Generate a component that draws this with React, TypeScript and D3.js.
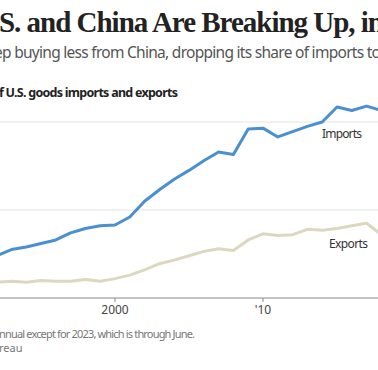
import React from 'react';
import * as d3 from 'd3';

// China's share of U.S. goods trade, percent
const years = [1992, 1993, 1994, 1995, 1996, 1997, 1998, 1999, 2000, 2001, 2002, 2003, 2004, 2005,
  2006, 2007, 2008, 2009, 2010, 2011, 2012, 2013, 2014, 2015, 2016, 2017, 2018];
const importShare = [4.8, 5.5, 5.8, 6.2, 6.6, 7.4, 7.9, 8.2, 8.3, 9.2, 11.0, 12.3, 13.5, 14.5,
  15.6, 16.6, 16.3, 19.2, 19.3, 18.3, 18.9, 19.5, 20.0, 21.7, 21.3, 21.8, 21.3];
const exportShare = [1.8, 1.9, 1.8, 2.0, 1.9, 1.9, 2.1, 1.9, 2.2, 2.6, 3.2, 3.9, 4.3, 4.8,
  5.3, 5.6, 5.4, 6.6, 7.3, 7.1, 7.2, 7.8, 7.7, 7.9, 8.2, 8.5, 7.2];
const gridValues = [10, 20];
const tickYears = [2000, 2010];
const tickLabels = ['2000', "'10"];

const W = 378;
const H = 370;
const SANS = '"Noto Sans", "Open Sans", sans-serif';

export default function App() {
  // 2000 sits at x=115, 2010 at x=263; the chart is cropped on both sides
  const x = d3.scaleLinear().domain([2000, 2010]).range([115, 263]);
  const y = d3.scaleLinear().domain([0, 20]).range([298, 122]);

  const line = d3.line<number>()
    .x((_, i) => x(years[i]))
    .y(d => y(d));

  return (
    <svg width={W} height={H} style={{ position: 'absolute', left: 0, top: 0, background: '#fff' }}>
      {/* titles */}
      <text x={-1} y={32} textLength={385} fontFamily='"Liberation Serif", serif' fontWeight="bold"
        fontSize={29} fill="#222">S. and China Are Breaking Up, in</text>
      <text x={-6} y={58} textLength={387} fontFamily={SANS} fontSize={15.5} fill="#555">
        ep buying less from China, dropping its share of imports to</text>
      <text x={-1} y={97} textLength={179} fontFamily={SANS} fontWeight="bold" fontSize={12.5} fill="#222">
        f U.S. goods imports and exports</text>

      {/* gridlines */}
      {gridValues.map(v => (
        <line key={v} x1={0} x2={W} y1={y(v)} y2={y(v)} stroke="#e4e4e4" strokeWidth={1} />
      ))}

      {/* series */}
      <path d={line(exportShare) ?? ''} fill="none" stroke="#dcd8c0" strokeWidth={3} strokeLinejoin="round" />
      <path d={line(importShare) ?? ''} fill="none" stroke="#4a8fcf" strokeWidth={3} strokeLinejoin="round" />

      {/* x axis */}
      <line x1={0} x2={W} y1={y(0)} y2={y(0)} stroke="#8a8a8a" strokeWidth={1} />
      {tickYears.map((t, i) => (
        <g key={t}>
          <line x1={x(t)} x2={x(t)} y1={y(0)} y2={y(0) + 4} stroke="#8a8a8a" strokeWidth={1} />
          <text x={x(t)} y={y(0) + 16} textAnchor="middle" fontFamily={SANS} fontSize={12} fill="#444">
            {tickLabels[i]}</text>
        </g>
      ))}

      {/* series labels */}
      <text x={322} y={138} textLength={40} fontFamily={SANS} fontSize={12} fill="#333">Imports</text>
      <text x={329} y={248} textLength={39} fontFamily={SANS} fontSize={12} fill="#333">Exports</text>

      {/* footnotes */}
      <text x={-1} y={338} fontFamily={SANS} fontSize={11} fill="#777" textLength={196}>
        nnual except for 2023, which is through June.</text>
      <text x={-1} y={352} fontFamily={SANS} fontSize={11} fill="#777">reau</text>
    </svg>
  );
}
